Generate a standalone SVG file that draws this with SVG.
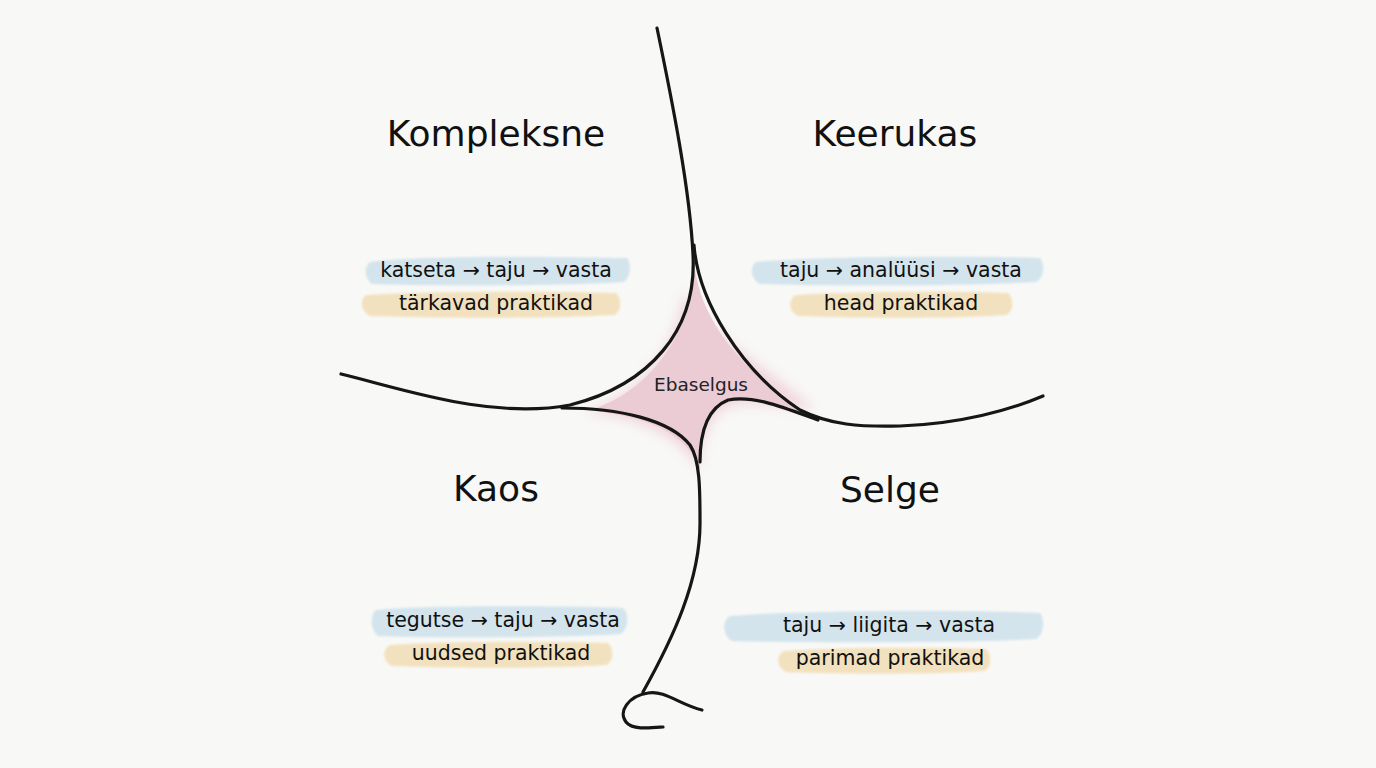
<svg xmlns="http://www.w3.org/2000/svg" width="1376" height="768" viewBox="0 0 1376 768">
<defs>
<filter id="soft" x="-20%" y="-20%" width="140%" height="140%"><feGaussianBlur stdDeviation="6"/></filter>
<filter id="soft2" x="-10%" y="-30%" width="120%" height="160%"><feGaussianBlur stdDeviation="1.2"/></filter>
<style>
.line{fill:none;stroke:#161616;stroke-width:3.2;stroke-linecap:round;stroke-linejoin:round}
.title{font-family:"DejaVu Sans","Liberation Sans",sans-serif;font-size:36px;fill:#111;text-anchor:middle}
.lbl{font-family:"DejaVu Sans","Liberation Sans",sans-serif;font-size:20.5px;fill:#111;text-anchor:middle}
.small{font-family:"DejaVu Sans","Liberation Sans",sans-serif;font-size:18.5px;fill:#222;text-anchor:middle}
.blue{fill:#cfe2ec;opacity:0.9}
.yel{fill:#f2dfb8;opacity:0.9}
</style>
</defs>
<rect width="1376" height="768" fill="#f8f8f6"/>

<g id="ebaselgus">
<path d="M684,290 C700,330 760,360 815,410 C770,405 740,400 722,410 C705,425 700,450 700,470 C680,440 650,420 585,412 C640,395 676,350 684,290 Z" fill="#efcfd7" filter="url(#soft)" opacity="0.8"/>
<path d="M694,262 C700,320 740,370 808,414 C775,402 745,396 725,403 C706,414 700,440 700,470 C690,440 660,418 590,410 C640,395 692,345 694,262 Z" fill="#ecccd4"/>
<text class="small" x="701" y="391">Ebaselgus</text>
</g>

<g id="connectors">
<path class="line" d="M657,28 C672,100 690,190 693,255 C697,330 650,385 570,405 C490,420 400,388 341,374"/>
<path class="line" d="M694,245 C698,300 740,370 800,410 C830,425 860,427 900,426 C960,424 1010,410 1043,396"/>
<path class="line" d="M562,408 C620,408 670,420 690,445 C700,460 700,490 700,520 C701,580 672,640 643,692"/>
<path class="line" d="M700,462 C700,430 708,408 728,400 C755,395 785,408 818,420"/>
<path class="line" d="M702,710 C680,705 665,690 648,693 C628,696 618,712 626,722 C632,730 650,728 663,727"/>
</g>

<g id="kompleksne">
<text class="title" x="496" y="146">Kompleksne</text>
<path class="blue" d="M370,262 C420,255 560,257 627,258 C632,264 630,278 624,282 C560,286 430,286 372,284 C364,278 364,266 370,262 Z" filter="url(#soft2)"/>
<text class="lbl" x="496" y="277">katseta → taju → vasta</text>
<path class="yel" d="M366,295 C420,291 560,291 616,293 C622,298 622,312 614,315 C540,319 430,318 370,316 C360,311 360,299 366,295 Z" filter="url(#soft2)"/>
<text class="lbl" x="496" y="310">tärkavad praktikad</text>
</g>

<g id="keerukas">
<text class="title" x="895" y="146">Keerukas</text>
<path class="blue" d="M756,262 C820,256 980,256 1040,258 C1045,264 1044,278 1036,282 C960,286 830,286 760,284 C750,278 750,266 756,262 Z" filter="url(#soft2)"/>
<text class="lbl" x="901" y="277">taju → analüüsi → vasta</text>
<path class="yel" d="M796,295 C850,291 960,291 1008,293 C1014,298 1014,312 1006,315 C950,319 850,318 798,316 C788,311 788,299 796,295 Z" filter="url(#soft2)"/>
<text class="lbl" x="901" y="310">head praktikad</text>
</g>

<g id="kaos">
<text class="title" x="496" y="501">Kaos</text>
<path class="blue" d="M376,610 C430,605 570,606 623,608 C630,614 628,630 620,634 C560,638 430,638 378,636 C370,630 370,615 376,610 Z" filter="url(#soft2)"/>
<text class="lbl" x="503" y="627">tegutse → taju → vasta</text>
<path class="yel" d="M390,645 C440,641 560,641 608,643 C614,648 614,662 606,665 C550,669 440,668 392,666 C382,661 382,649 390,645 Z" filter="url(#soft2)"/>
<text class="lbl" x="501" y="660">uudsed praktikad</text>
</g>

<g id="selge">
<text class="title" x="890" y="502">Selge</text>
<path class="blue" d="M730,616 C800,610 980,610 1040,613 C1045,619 1044,635 1036,639 C960,643 800,643 732,641 C722,635 722,621 730,616 Z" filter="url(#soft2)"/>
<text class="lbl" x="889" y="632">taju → liigita → vasta</text>
<path class="yel" d="M784,651 C830,647 940,647 986,649 C992,654 992,668 984,671 C930,675 830,674 786,672 C776,667 776,655 784,651 Z" filter="url(#soft2)"/>
<text class="lbl" x="890" y="665">parimad praktikad</text>
</g>
</svg>
